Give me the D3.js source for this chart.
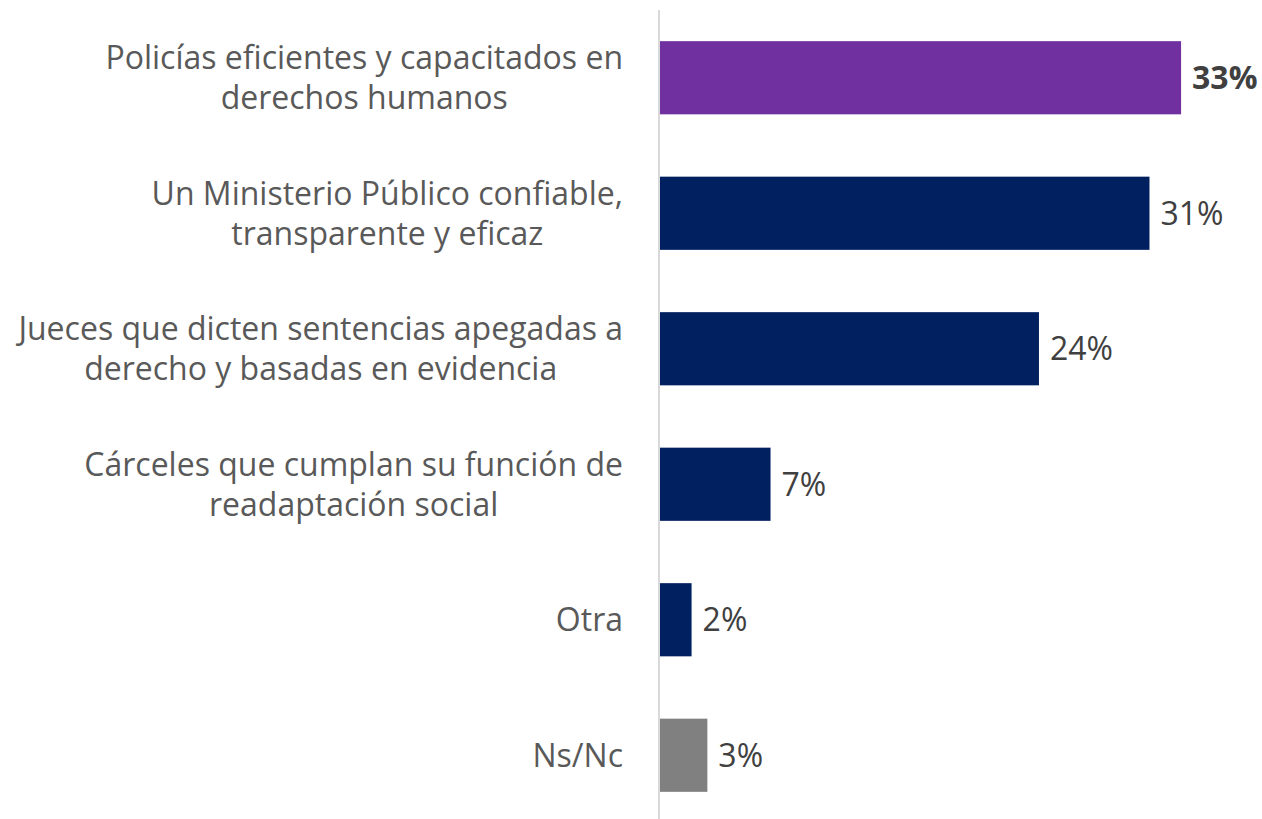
<!DOCTYPE html>
<html><head><meta charset="utf-8">
<script src="https://cdn.jsdelivr.net/npm/d3@7"></script>
<style>body{margin:0;background:#fff}svg{display:block}</style>
</head><body>
<svg id="chart" width="1262" height="819"></svg>
<script>
const categories = [
  ["Policías eficientes y capacitados en", "derechos humanos"],
  ["Un Ministerio Público confiable,", "transparente y eficaz"],
  ["Jueces que dicten sentencias apegadas a", "derecho y basadas en evidencia"],
  ["Cárceles que cumplan su función de", "readaptación social"],
  ["Otra"],
  ["Ns/Nc"]
];
const values = [33, 31, 24, 7, 2, 3];
const valueLabels = ["33%", "31%", "24%", "7%", "2%", "3%"];
const barColors = ["#7030A0", "#002060", "#002060", "#002060", "#002060", "#808080"];

const svg = d3.select("#chart");
const x0 = 659, xMaxPx = 659 + 15.79 * 40;
const x = d3.scaleLinear().domain([0, 40]).range([x0, xMaxPx]);
const y = d3.scaleBand().domain(d3.range(values.length)).range([10, 823]).paddingInner(0.46).paddingOuter(0.23);

const font = "'Open Sans', Lato, sans-serif";
const fs = 32;

svg.append("line").attr("x1", x0).attr("x2", x0).attr("y1", 10).attr("y2", 819)
  .attr("stroke", "#d9d9d9").attr("stroke-width", 2);

svg.selectAll("rect.bar").data(values).join("rect")
  .attr("x", x(0) + 1).attr("y", (d, i) => y(i))
  .attr("width", d => x(d) - x(0)).attr("height", y.bandwidth())
  .attr("fill", (d, i) => barColors[i]);

svg.selectAll("text.val").data(values).join("text")
  .attr("x", d => x(d) + 12).attr("y", (d, i) => y(i) + y.bandwidth() / 2)
  .attr("dy", "0.36em")
  .attr("font-family", font).attr("font-size", fs)
  .attr("font-weight", (d, i) => i === 0 ? "bold" : "normal")
  .attr("fill", "#404040")
  .text((d, i) => valueLabels[i]);

const rightEdge = 623;
categories.forEach((lines, i) => {
  const g = svg.append("g");
  const cy = y(i) + y.bandwidth() / 2;
  const lh = 40;
  const texts = lines.map((ln, j) => g.append("text")
    .attr("font-family", font).attr("font-size", fs).attr("fill", "#595959")
    .attr("y", cy + (j - (lines.length - 1) / 2) * lh).attr("dy", "0.36em")
    .text(ln));
  const widths = texts.map(t => t.node().getComputedTextLength());
  const maxW = d3.max(widths);
  const center = rightEdge - maxW / 2;
  texts.forEach(t => t.attr("x", center).attr("text-anchor", "middle"));
});
</script>
</body></html>
